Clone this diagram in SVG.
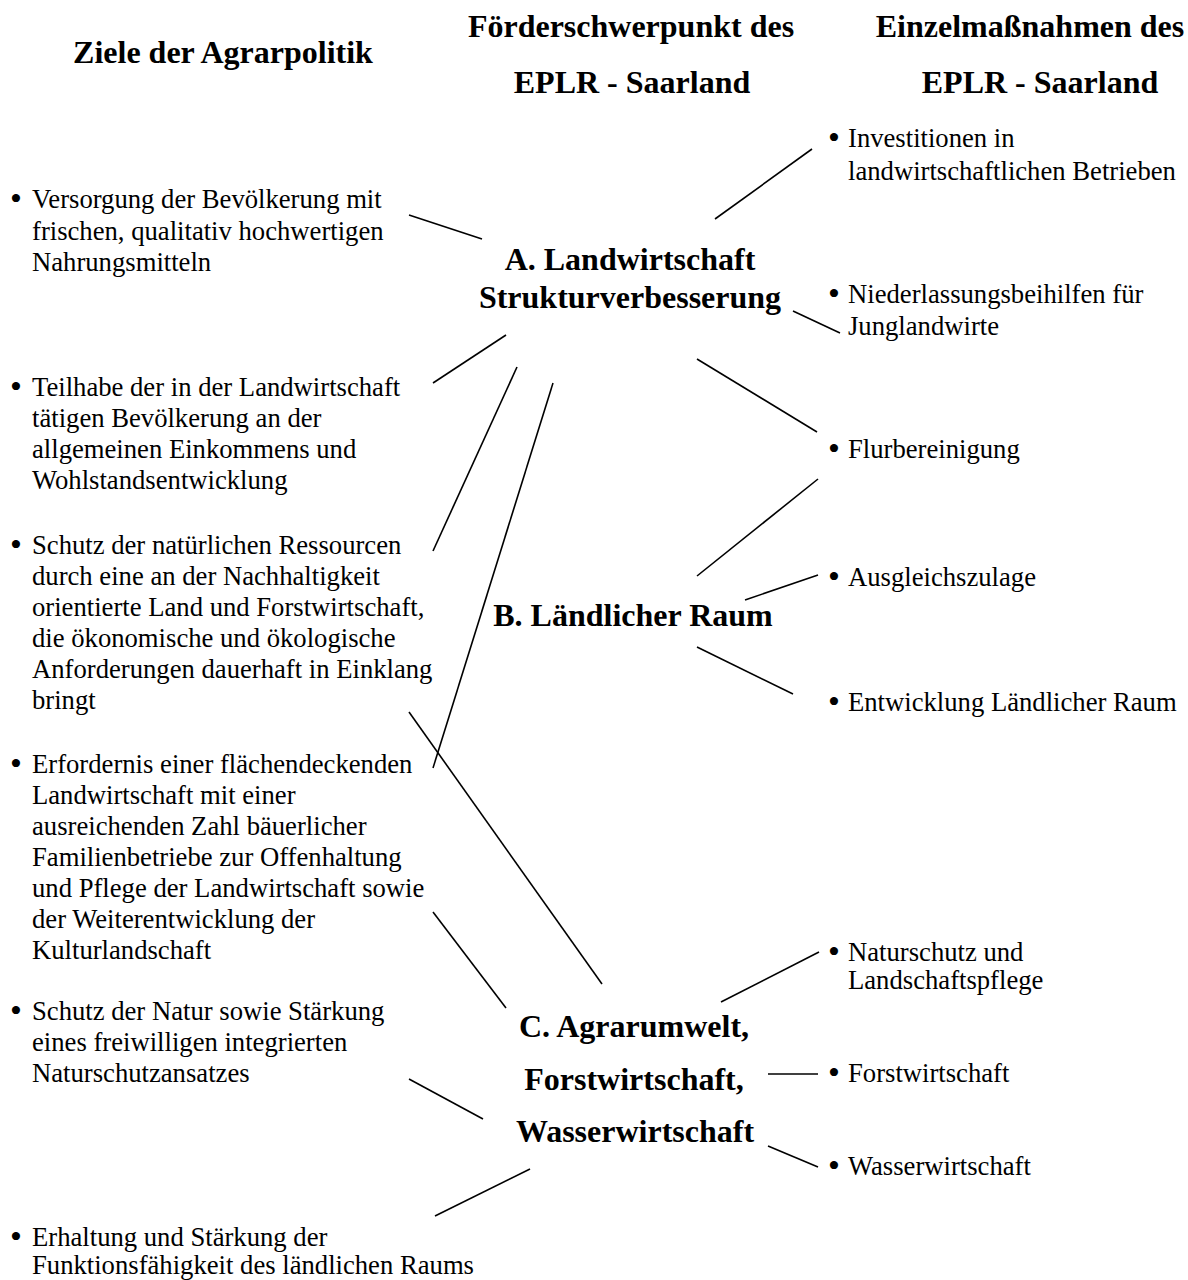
<svg xmlns="http://www.w3.org/2000/svg" width="1188" height="1280" viewBox="0 0 1188 1280">
<style>
text{font-family:"Liberation Serif","Times New Roman",serif;fill:#000}
.h{font-size:32px;font-weight:bold;text-anchor:middle}
.n{font-size:32px;font-weight:bold;text-anchor:middle}
.t{font-size:26.67px}
.b{font-size:34px;text-anchor:middle}
.c line{stroke:#000;stroke-width:1.6}
</style>
<rect width="1188" height="1280" fill="#fff"/>
<g id="header-ziele"><text class="h" x="223" y="63">Ziele der Agrarpolitik</text></g>
<g id="header-foerder"><text class="h" x="631" y="37">Förderschwerpunkt des</text><text class="h" x="632" y="93">EPLR - Saarland</text></g>
<g id="header-einzel"><text class="h" x="1030" y="37">Einzelmaßnahmen des</text><text class="h" x="1040" y="93">EPLR - Saarland</text></g>

<g id="goal-versorgung"><text class="b" x="16" y="210">•</text><text class="t"><tspan x="32" y="208">Versorgung der Bevölkerung mit</tspan><tspan x="32" y="240">frischen, qualitativ hochwertigen</tspan><tspan x="32" y="271">Nahrungsmitteln</tspan></text></g>
<g id="goal-teilhabe"><text class="b" x="16" y="398">•</text><text class="t"><tspan x="32" y="396">Teilhabe der in der Landwirtschaft</tspan><tspan x="32" y="427">tätigen Bevölkerung an der</tspan><tspan x="32" y="458">allgemeinen Einkommens und</tspan><tspan x="32" y="489">Wohlstandsentwicklung</tspan></text></g>
<g id="goal-ressourcen"><text class="b" x="16" y="556">•</text><text class="t"><tspan x="32" y="554">Schutz der natürlichen Ressourcen</tspan><tspan x="32" y="585">durch eine an der Nachhaltigkeit</tspan><tspan x="32" y="616">orientierte Land und Forstwirtschaft,</tspan><tspan x="32" y="647">die ökonomische und ökologische</tspan><tspan x="32" y="678">Anforderungen dauerhaft in Einklang</tspan><tspan x="32" y="709">bringt</tspan></text></g>
<g id="goal-flaechendeckend"><text class="b" x="16" y="775">•</text><text class="t"><tspan x="32" y="773">Erfordernis einer flächendeckenden</tspan><tspan x="32" y="804">Landwirtschaft mit einer</tspan><tspan x="32" y="835">ausreichenden Zahl bäuerlicher</tspan><tspan x="32" y="866">Familienbetriebe zur Offenhaltung</tspan><tspan x="32" y="897">und Pflege der Landwirtschaft sowie</tspan><tspan x="32" y="928">der Weiterentwicklung der</tspan><tspan x="32" y="959">Kulturlandschaft</tspan></text></g>
<g id="goal-natur"><text class="b" x="16" y="1022">•</text><text class="t"><tspan x="32" y="1020">Schutz der Natur sowie Stärkung</tspan><tspan x="32" y="1051">eines freiwilligen integrierten</tspan><tspan x="32" y="1082">Naturschutzansatzes</tspan></text></g>
<g id="goal-erhaltung"><text class="b" x="16" y="1248">•</text><text class="t"><tspan x="32" y="1246">Erhaltung und Stärkung der</tspan><tspan x="32" y="1274">Funktionsfähigkeit des ländlichen Raums</tspan></text></g>

<g id="node-a"><text class="n" x="630" y="270">A. Landwirtschaft</text><text class="n" x="630" y="308">Strukturverbesserung</text></g>
<g id="node-b"><text class="n" x="633" y="626">B. Ländlicher Raum</text></g>
<g id="node-c"><text class="n" x="634" y="1037">C. Agrarumwelt,</text><text class="n" x="634" y="1090">Forstwirtschaft,</text><text class="n" x="635" y="1142">Wasserwirtschaft</text></g>

<g id="m-invest"><text class="b" x="834" y="149">•</text><text class="t"><tspan x="848" y="147">Investitionen in</tspan><tspan x="848" y="180">landwirtschaftlichen Betrieben</tspan></text></g>
<g id="m-nieder"><text class="b" x="834" y="305">•</text><text class="t"><tspan x="848" y="303">Niederlassungsbeihilfen für</tspan><tspan x="848" y="335">Junglandwirte</tspan></text></g>
<g id="m-flur"><text class="b" x="834" y="460">•</text><text class="t" x="848" y="458">Flurbereinigung</text></g>
<g id="m-ausgleich"><text class="b" x="834" y="588">•</text><text class="t" x="848" y="586">Ausgleichszulage</text></g>
<g id="m-entwicklung"><text class="b" x="834" y="713">•</text><text class="t" x="848" y="711">Entwicklung Ländlicher Raum</text></g>
<g id="m-naturschutz"><text class="b" x="834" y="963">•</text><text class="t"><tspan x="848" y="961">Naturschutz und</tspan><tspan x="848" y="989">Landschaftspflege</tspan></text></g>
<g id="m-forst"><text class="b" x="834" y="1084">•</text><text class="t" x="848" y="1082">Forstwirtschaft</text></g>
<g id="m-wasser"><text class="b" x="834" y="1177">•</text><text class="t" x="848" y="1175">Wasserwirtschaft</text></g>

<g id="connectors" class="c">
<line x1="409" y1="215" x2="482" y2="239"/>
<line x1="433" y1="383" x2="506" y2="335"/>
<line x1="433" y1="551" x2="517" y2="367"/>
<line x1="433" y1="768" x2="553" y2="383"/>
<line x1="409" y1="712" x2="602" y2="984"/>
<line x1="433" y1="912" x2="506" y2="1008"/>
<line x1="409" y1="1079" x2="483" y2="1119"/>
<line x1="435" y1="1216" x2="530" y2="1169"/>
<line x1="715" y1="219" x2="812" y2="149"/>
<line x1="793" y1="311" x2="840" y2="333"/>
<line x1="697" y1="359" x2="817" y2="432"/>
<line x1="697" y1="576" x2="818" y2="479"/>
<line x1="745" y1="600" x2="818" y2="575"/>
<line x1="697" y1="647" x2="793" y2="694"/>
<line x1="721" y1="1002" x2="819" y2="952"/>
<line x1="768" y1="1074" x2="818" y2="1074"/>
<line x1="768" y1="1146" x2="818" y2="1167"/>
</g>
</svg>
